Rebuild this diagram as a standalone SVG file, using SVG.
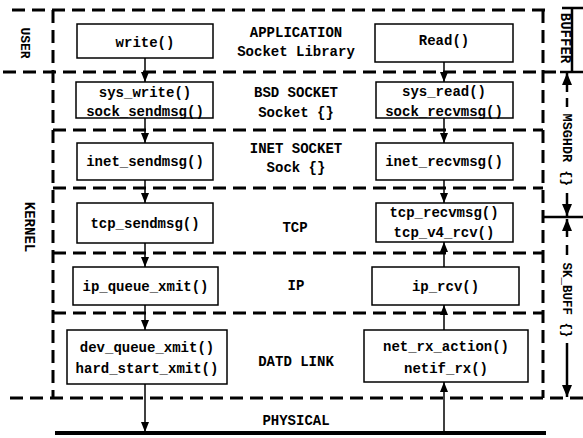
<svg xmlns="http://www.w3.org/2000/svg" width="583" height="438" viewBox="0 0 583 438">
<defs>
<marker id="ah" viewBox="0 0 10 10" refX="10" refY="5" markerWidth="10" markerHeight="10" markerUnits="userSpaceOnUse" orient="auto">
<path d="M0,1 L10,5 L0,9 z" fill="#000"/>
</marker>
<marker id="ah2" viewBox="0 0 12 12" refX="12" refY="6" markerWidth="12" markerHeight="12" markerUnits="userSpaceOnUse" orient="auto">
<path d="M0,1 L12,6 L0,11 z" fill="#000"/>
</marker>
<style>
.d{fill:none;stroke:#000;stroke-width:3;stroke-dasharray:13 7}
.s{fill:none;stroke:#000;stroke-width:2.5}
.b{fill:#fff;stroke:#000;stroke-width:1.5}
.t{font-family:"Liberation Mono",monospace;font-size:14px;font-weight:bold;fill:#000;text-anchor:middle}
.r{font-family:"Liberation Mono",monospace;font-size:13px;font-weight:bold;fill:#000;text-anchor:middle}
.c{fill:none;stroke:#000;stroke-width:1.5;marker-end:url(#ah)}
.dm{fill:none;stroke:#000;stroke-width:2.5;marker-end:url(#ah2)}
</style>
</defs>
<rect width="583" height="438" fill="#fff"/>

<g id="layers">
<path class="d" d="M12,10 H548"/>
<path class="d" d="M3,72 H560"/>
<path class="d" d="M53,130 H543"/>
<path class="d" d="M53,188 H543"/>
<path class="d" d="M53,253 H543"/>
<path class="d" d="M53,313 H543"/>
<path class="d" d="M10,398 H583"/>
<path class="d" d="M53,10 V398"/>
<path class="d" d="M543,10 V398"/>
<path class="s" d="M543,217 H583"/>
</g>

<g id="side-labels">
<text class="r" transform="translate(21,43) rotate(90)">USER</text>
<text class="t" transform="translate(25,227) rotate(90)">KERNEL</text>
</g>

<g id="buffer-dim">
<path class="s" d="M562,8 H583 M572,8 V72 M560,72 H583"/>
<text class="t" transform="translate(561,38) rotate(90)">BUFFER</text>
</g>

<g id="msghdr-dim">
<path class="dm" d="M567,92 V73"/>
<path class="s" d="M567,98 V107"/>
<text class="t" style="font-size:13.5px" transform="translate(563,150) rotate(90)">MSGHDR {}</text>
<path class="dm" d="M567,193 V216"/>
</g>

<g id="skbuff-dim">
<path class="dm" d="M567,237 V219"/>
<path class="s" d="M567,245 V255"/>
<text class="r" style="font-size:12.5px" transform="translate(563,300) rotate(90)">SK_BUFF {}</text>
<path class="dm" d="M567,343 V397"/>
</g>

<g id="layer-labels">
<text class="t" x="296" y="37">APPLICATION</text>
<text class="t" x="296" y="56">Socket Library</text>
<text class="t" x="296" y="97">BSD SOCKET</text>
<text class="t" x="296" y="117">Socket {}</text>
<text class="t" x="296" y="153">INET SOCKET</text>
<text class="t" x="296" y="172">Sock {}</text>
<text class="t" x="295" y="232">TCP</text>
<text class="t" x="296" y="290">IP</text>
<text class="t" x="296" y="366">DATD LINK</text>
<text class="t" x="296" y="425">PHYSICAL</text>
</g>

<g id="physical">
<path d="M55,433 H546" stroke="#000" stroke-width="4"/>
</g>

<g id="write"><rect class="b" x="77" y="24" width="136" height="34"/><text class="t" x="145" y="47">write()</text></g>
<g id="sys_write"><rect class="b" x="76" y="82" width="137" height="36"/><text class="t" x="145" y="97">sys_write()</text><text class="t" x="145" y="116">sock_sendmsg()</text></g>
<g id="inet_sendmsg"><rect class="b" x="77" y="143" width="136" height="37"/><text class="t" x="145" y="166">inet_sendmsg()</text></g>
<g id="tcp_sendmsg"><rect class="b" x="77" y="203" width="136" height="40"/><text class="t" x="145" y="228">tcp_sendmsg()</text></g>
<g id="ip_queue_xmit"><rect class="b" x="73" y="267" width="145" height="38"/><text class="t" x="145.5" y="291">ip_queue_xmit()</text></g>
<g id="dev_queue_xmit"><rect class="b" x="67" y="330" width="160" height="54"/><text class="t" x="147" y="352">dev_queue_xmit()</text><text class="t" x="147" y="373">hard_start_xmit()</text></g>

<g id="read"><rect class="b" x="375" y="24" width="138" height="38"/><text class="t" x="444" y="45">Read()</text></g>
<g id="sys_read"><rect class="b" x="376" y="82" width="137" height="36"/><text class="t" x="444" y="96">sys_read()</text><text class="t" x="444" y="116">sock_recvmsg()</text></g>
<g id="inet_recvmsg"><rect class="b" x="376" y="143" width="137" height="37"/><text class="t" x="444" y="166">inet_recvmsg()</text></g>
<g id="tcp_recvmsg"><rect class="b" x="376" y="203" width="137" height="39"/><text class="t" x="444" y="217">tcp_recvmsg()</text><text class="t" x="444" y="237">tcp_v4_rcv()</text></g>
<g id="ip_rcv"><rect class="b" x="372" y="267" width="147" height="38"/><text class="t" x="445.5" y="291">ip_rcv()</text></g>
<g id="net_rx_action"><rect class="b" x="364" y="330" width="164" height="52"/><text class="t" x="446" y="351">net_rx_action()</text><text class="t" x="446" y="373">netif_rx()</text></g>

<g id="connectors">
<path class="c" d="M145,58 V82"/>
<path class="c" d="M145,118 V143"/>
<path class="c" d="M145,180 V203"/>
<path class="c" d="M145,243 V267"/>
<path class="c" d="M145,305 V330"/>
<path class="c" d="M145,384 V432"/>
<path class="c" d="M444,62 V82"/>
<path class="c" d="M444,118 V143"/>
<path class="c" d="M444,180 V203"/>
<path class="c" d="M444,267 V242"/>
<path class="c" d="M444,330 V305"/>
<path class="c" d="M444,431 V382"/>
</g>
</svg>
